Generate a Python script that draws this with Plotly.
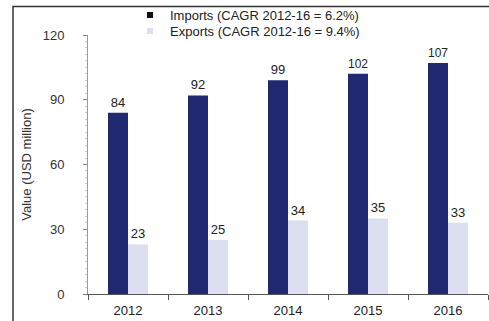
import plotly.graph_objects as go

years = ["2012", "2013", "2014", "2015", "2016"]
imports = [84, 92, 99, 102, 107]
exports = [23, 25, 34, 35, 33]
imports_name = "Imports (CAGR 2012-16 = 6.2%)"
exports_name = "Exports (CAGR 2012-16 = 9.4%)"
y_ticks = [0, 30, 60, 90, 120]
imp_color = "#212a70"
exp_color = "#dcdff0"

font = "Liberation Sans, Arial, sans-serif"
fig = go.Figure()
fig.add_trace(go.Bar(x=years, y=imports, name=imports_name, marker_color=imp_color,
                     marker_line_width=0, text=imports, textposition="outside", showlegend=False,
                     textfont=dict(size=13, color="#222", family=font), cliponaxis=False))
fig.add_trace(go.Bar(x=years, y=exports, name=exports_name, marker_color=exp_color,
                     marker_line_width=0, text=exports, textposition="outside", showlegend=False,
                     textfont=dict(size=13, color="#222", family=font), cliponaxis=False))
# legend entries
fig.add_trace(go.Scatter(x=[None], y=[None], mode="markers", name=imports_name, legend="legend",
                         marker=dict(symbol="square", size=6, color="#111")))
fig.add_trace(go.Scatter(x=[None], y=[None], mode="markers", name=exports_name, legend="legend2",
                         marker=dict(symbol="square", size=6, color=exp_color)))

leg = dict(xanchor="left", yanchor="middle", font=dict(size=13, color="#222"),
           bgcolor="rgba(0,0,0,0)", itemwidth=30, borderwidth=0)
fig.update_layout(
    width=489, height=321,
    margin=dict(l=88, r=1, t=35, b=27, autoexpand=False),
    paper_bgcolor="white", plot_bgcolor="white",
    barmode="group", bargap=0.5, bargroupgap=0,
    font=dict(family=font, size=13, color="#333"),
    showlegend=True,
    legend=dict(x=0.105, y=1.077, **leg),
    legend2=dict(x=0.105, y=1.015, **leg),
    xaxis=dict(showline=True, linecolor="#555", linewidth=1, ticks="outside",
               tickson="boundaries", ticklen=5, tickcolor="#555", showgrid=False,
               automargin=False, ticklabelstandoff=4, tickfont=dict(size=13, color="#222")),
    yaxis=dict(range=[0, 120], tickvals=y_ticks, showline=True, linecolor="#999",
               linewidth=1, ticks="outside", ticklen=4, tickcolor="#888", showgrid=False,
               zeroline=False, automargin=False, ticklabelstandoff=16,
               minor=dict(ticks="outside", ticklen=2, dtick=3, tickcolor="#ccc"),
               tickfont=dict(size=13, color="#333"),
               title=dict(text="Value (USD million)", font=dict(size=13, color="#333"), standoff=8)),
)
# outer frame (left and top edges visible; right/bottom lie off-page)
fig.add_shape(type="rect", xref="paper", yref="paper", x0=-0.1875, x1=1.05, y0=-0.2, y1=1.11,
              line=dict(color="#333", width=1.5), fillcolor="rgba(0,0,0,0)", layer="above")
fig.write_html("out.html", config={"displayModeBar": False},
               post_script="document.body.style.margin='0';document.body.style.overflow='hidden';")
